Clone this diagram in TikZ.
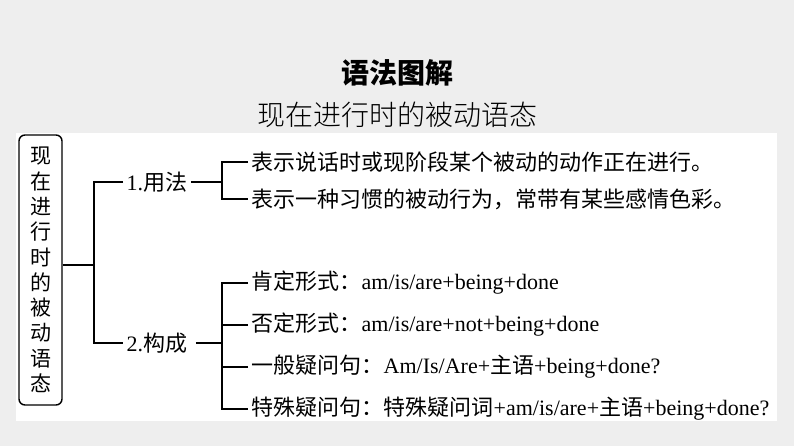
\documentclass[tikz,border=0pt]{standalone}
\usepackage{fontspec}
\setmainfont{Liberation Serif}
\newfontfamily\cjk{Noto Sans CJK SC}
\newfontfamily\cjklight{Noto Sans CJK SC Light}
\newfontfamily\cjkblack{Noto Sans CJK SC Black}
\usepackage{xcolor}
\definecolor{bggray}{RGB}{238,238,238}

\begin{document}
\begin{tikzpicture}[x=1pt,y=-1pt]

		\tikzset{item/.style = {anchor=west,inner sep=3.5pt,font=\fontsize{22}{26}\selectfont}}
		\tikzset{branch/.style = {-,line width=1.3pt}}
		\fill[bggray] (0,0) rectangle (794,446);
		\fill[white] (16,133) rectangle (777,421);
		\node[font=\cjkblack\fontsize{28}{32}\selectfont] (title) at (397,73) {语法图解};
		\node[font=\cjklight\fontsize{28}{32}\selectfont] (subtitle) at (397,115) {现在进行时的被动语态};
		\node[draw,rounded corners=6pt,line width=1.4pt,minimum width=43pt,minimum height=270pt,inner sep=0pt,align=center,font=\cjk\fontsize{21}{25.3}\selectfont] (root) at (40.5,270) {现\\在\\进\\行\\时\\的\\被\\动\\语\\态};
		\node[item] (yongfa) at (123,182) {1.{\cjk 用法}};
		\node[item] (goucheng) at (123,343) {2.{\cjk 构成}};
		\node[item] (u1) at (248,162) {\cjk 表示说话时或现阶段某个被动的动作正在进行。};
		\node[item] (u2) at (248,199) {\cjk 表示一种习惯的被动行为，常带有某些感情色彩。};
		\node[item] (f1) at (248,283) {{\cjk 肯定形式：}am/is/are+being+done};
		\node[item] (f2) at (248,325) {{\cjk 否定形式：}am/is/are+not+being+done};
		\node[item] (f3) at (248,367) {{\cjk 一般疑问句：}Am/Is/Are+{\cjk 主语}+being+done?};
		\node[item] (f4) at (248,409) {{\cjk 特殊疑问句：特殊疑问词}+am/is/are+{\cjk 主语}+being+done?};
		\coordinate (rj) at (94,265);
		\coordinate (uj) at (222,182);
		\coordinate (gj) at (222,343);
		%edges
		\draw[branch] (root.east |- rj) to (rj);
		\draw[branch] (yongfa.west) -| (rj) |- (goucheng.west);
		\draw[branch] (yongfa.east) to (uj);
		\draw[branch] (u1.west) -| (uj) |- (u2.west);
		\draw[branch,line width=1.8pt] ([xshift=5pt]goucheng.east) to (gj);
		\draw[branch] (f1.west) -| (gj) |- (f4.west);
		\draw[branch] (f2.west) to (f2.west -| gj);
		\draw[branch] (f3.west) to (f3.west -| gj);
		\end{tikzpicture}
\end{document}
